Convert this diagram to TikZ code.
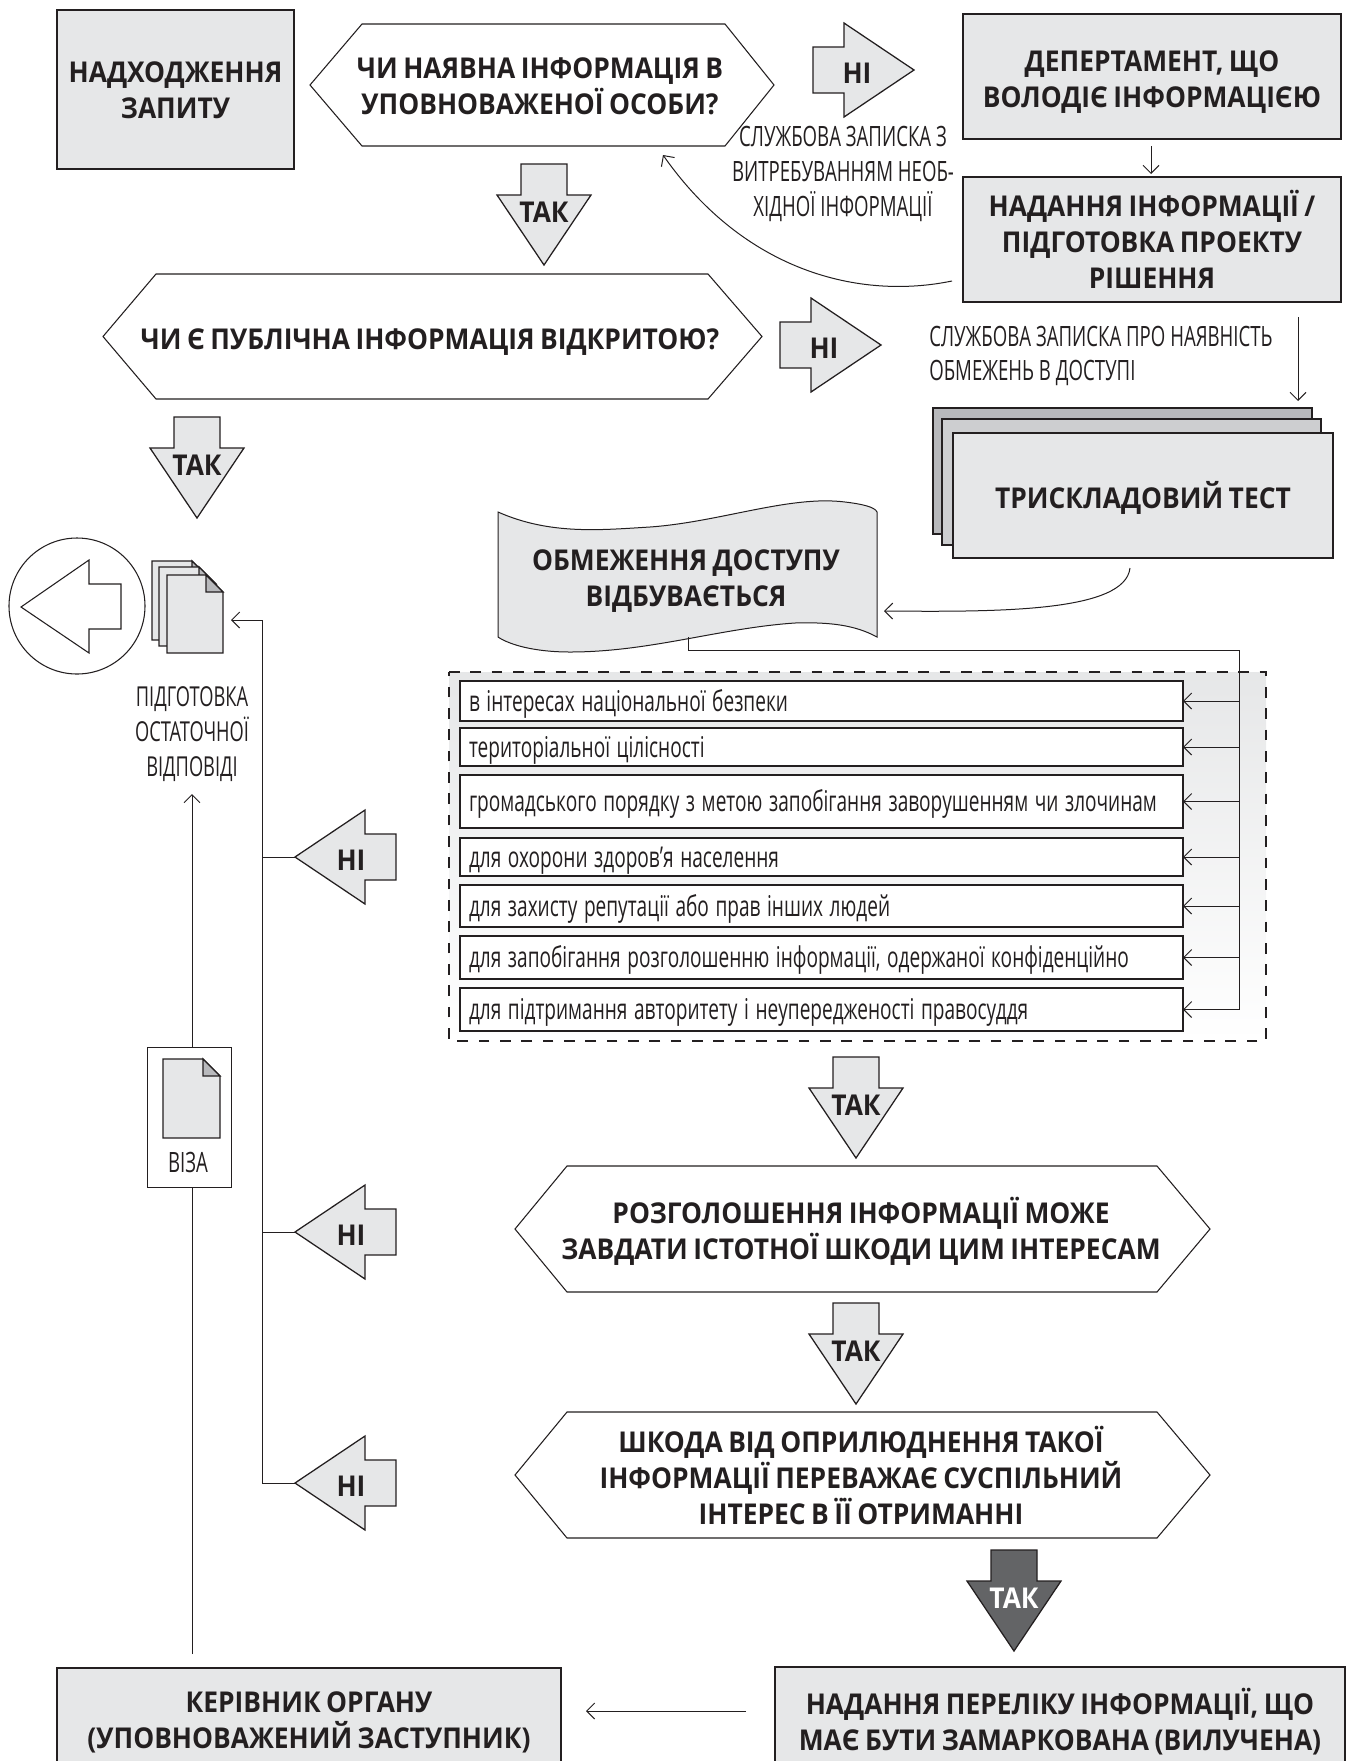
\documentclass[tikz,border=0pt]{standalone}
\usepackage{fontspec}
\usetikzlibrary{arrows.meta}
\setmainfont{Open Sans}
\newfontfamily\titlef[FakeStretch=0.92,WordSpace=0.8]{Open Sans}
\newfontfamily\narrowf[FakeStretch=0.665,WordSpace=1.0]{Open Sans}
\definecolor{ink}{HTML}{231F20}
\definecolor{pale}{HTML}{E6E7E8}
\definecolor{midg}{HTML}{CDCED0}
\definecolor{stackg}{HTML}{B8B9BC}
\definecolor{darkg}{HTML}{636466}
\newcommand{\dn}[1]{\rule{0pt}{#1pt}}
\tikzset{
  x=0.75pt,y=-0.75pt,
  outl/.style={draw=ink,line width=0.95pt},
  thin line/.style={draw=ink,line width=0.75pt},
  grayfill/.style={outl,fill=pale},
  title/.style={font=\titlef\bfseries\fontsize{21.5}{27}\selectfont,text=ink,align=center,inner sep=0pt},
  narrow/.style={font=\narrowf\fontsize{21}{26}\selectfont,text=ink,align=center,inner sep=0pt},
  limtext/.style={font=\narrowf\fontsize{21.5}{24}\selectfont,text=ink,align=left,inner ysep=0pt,inner xsep=6.75pt,text height=18.6pt,text depth=3.2pt},
  titlebox/.style={grayfill,title,outer sep=0pt},
  arr/.style={thin line,-{Straight Barb[length=6pt,width=12pt,line width=0.75pt]}},
  conn/.style={thin line},
}
\newcommand{\rbox}[7]{%
  \pgfmathsetmacro\bw{(#4-#2)*0.75}\pgfmathsetmacro\bh{(#5-#3)*0.75}%
  \node[#6,minimum width=\bw pt,minimum height=\bh pt] (#1) at ({(#2+#4)/2},{(#3+#5)/2}) {#7};}
\newcommand{\limbox}[5]{%
  \pgfmathsetmacro\bw{723*0.75}\pgfmathsetmacro\bh{(#3-#2)*0.75}%
  \node[outl,fill=white,limtext,text width=\bw pt-13.5pt,minimum height=\bh pt,outer sep=0pt] (#1) at (821.5,{(#2+#3)/2}) {\spaceskip=.23em #4};}
\newcommand{\hexa}[7]{%
  \draw[thin line,fill=white,line width=0.8pt] (#2,{(#6+#7)/2}) -- (#3,#6) -- (#4,#6) -- (#5,{(#6+#7)/2}) -- (#4,#7) -- (#3,#7) -- cycle;%
  \coordinate (#1) at ({(#2+#5)/2},{(#6+#7)/2});}
\newcommand{\tak}[5]{%
  \draw[outl,fill=#4] (#2-23,#3) -- (#2+23,#3) -- (#2+23,#3+31) -- (#2+47,#3+31) -- (#2,#3+101) -- (#2-47,#3+31) -- (#2-23,#3+31) -- cycle;%
  \node[title,text=#5] (#1) at (#2,#3+48) {ТАК};}
\newcommand{\nir}[3]{%
  \draw[outl,fill=pale] (#2,#3-23) -- (#2+31,#3-23) -- (#2+31,#3-47) -- (#2+101,#3) -- (#2+31,#3+47) -- (#2+31,#3+23) -- (#2,#3+23) -- cycle;%
  \node[title] (#1) at (#2+44,#3+3) {НІ};}
\newcommand{\nil}[3]{%
  \draw[outl,fill=pale] (#2,#3) -- (#2+70,#3-47) -- (#2+70,#3-23) -- (#2+101,#3-23) -- (#2+101,#3+23) -- (#2+70,#3+23) -- (#2+70,#3+47) -- cycle;%
  \node[title] (#1) at (#2+56,#3+3) {НІ};
  \coordinate (#1tip) at (#2,#3);}
\newcommand{\sheet}[4]{%
  \draw[outl,fill=pale] (#1,#2) -- (#3-17,#2) -- (#3,#2+17) -- (#3,#4) -- (#1,#4) -- cycle;%
  \draw[outl,fill=stackg] (#3-17,#2) -- (#3-17,#2+17) -- (#3,#2+17) -- cycle;}
\begin{document}
\begin{tikzpicture}
\useasboundingbox (0,0) rectangle (1346,1761);
\clip (0,0) rectangle (1346,1761);
\rbox{start}{57}{10}{294}{169}{titlebox}{\dn{17}НАДХОДЖЕННЯ\\ЗАПИТУ}
\hexa{qone}{310}{362}{725}{774}{24}{146}
\node[title] (qonet) at (540,86) {ЧИ НАЯВНА ІНФОРМАЦІЯ В\\УПОВНОВАЖЕНОЇ ОСОБИ?};
\nir{nione}{813}{70}
\rbox{dept}{963}{14}{1341}{139}{titlebox}{\dn{24}ДЕПЕРТАМЕНТ, ЩО\\ВОЛОДІЄ ІНФОРМАЦІЄЮ}
\rbox{give}{963}{177}{1341}{302}{titlebox}{НАДАННЯ ІНФОРМАЦІЇ /\\ПІДГОТОВКА ПРОЕКТУ\\РІШЕННЯ}
\coordinate (deptout) at (1151,146);
\coordinate (givein) at (1151,174);
\draw[arr] (deptout) -- (givein);
\node[narrow,font=\narrowf\fontsize{21}{26.2}\selectfont] (memoone) at (843,174) {СЛУЖБОВА ЗАПИСКА З\\ВИТРЕБУВАННЯМ НЕОБ-\\ХІДНОЇ ІНФОРМАЦІЇ};
\coordinate (giveback) at (952,281);
\coordinate (qoneback) at (663,155);
\draw[arr] (giveback) .. controls (860,300) and (745,272) .. (qoneback);
\tak{takone}{544}{164}{pale}{ink}
\hexa{qtwo}{103}{156}{708}{762}{274}{399}
\node[title] (qtwot) at (430,342) {ЧИ Є ПУБЛІЧНА ІНФОРМАЦІЯ ВІДКРИТОЮ?};
\nir{nitwo}{780}{345}
\node[narrow,align=left,anchor=west] (memotwo) at (929,356) {СЛУЖБОВА ЗАПИСКА ПРО НАЯВНІСТЬ\\ОБМЕЖЕНЬ В ДОСТУПІ};
\coordinate (giveout) at (1298,317);
\coordinate (testin) at (1298,401);
\draw[arr] (giveout) -- (testin);
\rbox{stackone}{933}{408}{1312}{534}{outl,fill=stackg}{}
\rbox{stacktwo}{942}{419}{1321}{545}{outl,fill=midg}{}
\rbox{test}{953}{433}{1333}{558}{titlebox}{\dn{24}ТРИСКЛАДОВИЙ ТЕСТ}
\tak{taktwo}{197}{417}{pale}{ink}
\draw[thin line,line width=0.8pt] (77,606) circle[radius=68];
\draw[thin line,line width=0.8pt,fill=white] (21,607) -- (89,560) -- (89,584) -- (121,584) -- (121,629) -- (89,629) -- (89,653) -- cycle;
\sheet{152}{561}{209}{640}
\sheet{159}{567}{216}{646}
\sheet{167}{575}{223}{653}
\coordinate (docin) at (231,620);
\node[narrow,font=\narrowf\fontsize{20.6}{26.5}\selectfont] (final) at (192,734) {ПІДГОТОВКА\\ОСТАТОЧНОЇ\\ВІДПОВІДІ};
\draw[thin line,fill=pale] (498,512) .. controls (550,535) and (600,530) .. (650,527) .. controls (720,522) and (790,495) .. (845,502) .. controls (862,504) and (875,507) .. (877,512) -- (877,637) .. controls (855,625) and (830,622) .. (795,623) .. controls (720,628) and (650,652) .. (570,652) .. controls (535,652) and (510,645) .. (498,637) -- cycle;
\node[title] (limit) at (686,581) {ОБМЕЖЕННЯ ДОСТУПУ\\ВІДБУВАЄТЬСЯ};
\coordinate (testout) at (1130,568);
\coordinate (wavein) at (884,611);
\draw[arr] (testout) .. controls (1125,612) and (1000,612) .. (wavein);
\shade[top color=pale,bottom color=white] (449,672) rectangle (1266,1041);
\draw[ink,line width=1.8pt,dash pattern=on 8pt off 8pt] (449,672) -- (1266,672) -- (1266,1041) -- (449,1041) -- cycle;
\limbox{limone}{681}{721}{в інтересах національної безпеки}{}
\limbox{limtwo}{728}{766}{територіальної цілісності}{}
\limbox{limthree}{775}{828}{громадського порядку з метою запобігання заворушенням чи злочинам}{}
\limbox{limfour}{838}{876}{для охорони здоров’я населення}{}
\limbox{limfive}{885}{927}{для захисту репутації або прав інших людей}{}
\limbox{limsix}{936}{979}{для запобігання розголошенню інформації, одержаної конфіденційно}{}
\limbox{limseven}{988}{1031}{для підтримання авторитету і неупередженості правосуддя}{}
\coordinate (waveout) at (688,637);
\coordinate (bus) at (1239,650);
\draw[conn] (waveout) |- (bus) -- (bus |- limseven.east);
\foreach \b in {limone,limtwo,limthree,limfour,limfive,limsix,limseven}{
  \draw[arr] (bus |- \b.east) -- (\b.east);
}
\tak{takthree}{856}{1057}{pale}{ink}
\hexa{qthree}{515}{567}{1157}{1210}{1166}{1292}
\node[title] (qthreet) at (861,1231) {РОЗГОЛОШЕННЯ ІНФОРМАЦІЇ МОЖЕ\\ЗАВДАТИ ІСТОТНОЇ ШКОДИ ЦИМ ІНТЕРЕСАМ};
\tak{takfour}{856}{1303}{pale}{ink}
\hexa{qfour}{515}{567}{1157}{1210}{1412}{1538}
\node[title] (qfourt) at (861,1475) {ШКОДА ВІД ОПРИЛЮДНЕННЯ ТАКОЇ\\ІНФОРМАЦІЇ ПЕРЕВАЖАЄ СУСПІЛЬНИЙ\\ІНТЕРЕС В ЇЇ ОТРИМАННІ};
\tak{takfive}{1014}{1550}{darkg}{white}
\nil{nia}{295}{857}
\nil{nib}{295}{1232}
\nil{nic}{295}{1483}
\coordinate (trunk) at (262,620);
\draw[arr] (trunk |- nictip) -- (trunk) -- (docin);
\foreach \n in {nia,nib,nic}{ \draw[conn] (trunk |- \n tip) -- (\n tip); }
\coordinate (headout) at (192,1654);
\coordinate (finalin) at (192,794);
\draw[arr] (headout) -- (finalin);
\rbox{visa}{147}{1047}{231}{1187}{thin line,fill=white}{}
\sheet{163}{1059}{220}{1138}
\node[narrow] (visat) at (188,1162) {ВІЗА};
\rbox{head}{57}{1668}{561}{1776}{titlebox}{КЕРІВНИК ОРГАНУ\\(УПОВНОВАЖЕНИЙ ЗАСТУПНИК)}
\rbox{list}{775}{1667}{1345}{1776}{titlebox}{НАДАННЯ ПЕРЕЛІКУ ІНФОРМАЦІЇ, ЩО\\МАЄ БУТИ ЗАМАРКОВАНА (ВИЛУЧЕНА)}
\coordinate (listout) at (746,1711);
\coordinate (headin) at (586,1711);
\draw[arr] (listout) -- (headin);
\end{tikzpicture}
\end{document}
